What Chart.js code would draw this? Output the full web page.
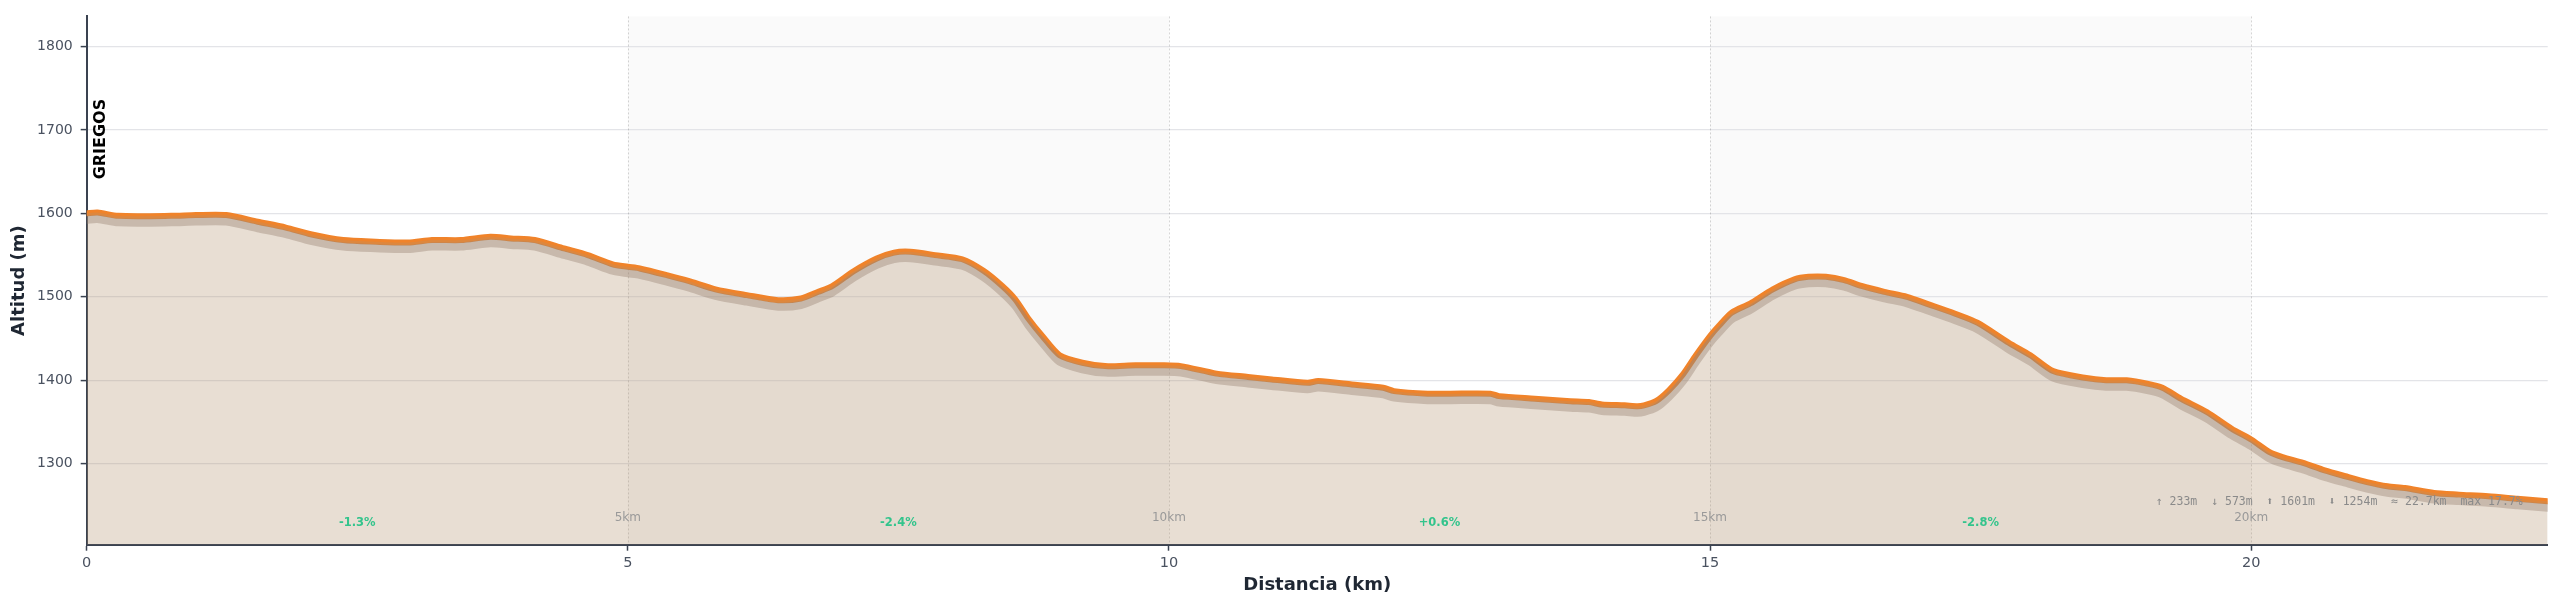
<!DOCTYPE html>
<html>
<head>
<meta charset="utf-8">
<script src="https://cdn.jsdelivr.net/npm/chart.js@4.4.1/dist/chart.umd.min.js"></script>
<style>
  html, body { margin: 0; padding: 0; background: #ffffff; }
  #wrap { width: 2560px; height: 608px; }
</style>
</head>
<body>
<div id="wrap"><canvas id="c" width="2560" height="608"></canvas></div>
<script>
// ---- data ----
const distanceKm = [
  0, 0.1, 0.29, 0.78, 1.01, 1.29, 1.58, 1.84, 2.07, 2.37,
  2.67, 2.97, 3.19, 3.46, 3.73, 3.92, 4.14, 4.41, 4.63, 4.86,
  5.0, 5.11, 5.36, 5.56, 5.81, 6.10, 6.39, 6.60, 6.76, 6.89,
  7.09, 7.30, 7.46, 7.61, 7.84, 8.09, 8.29, 8.46, 8.58, 8.70,
  8.83, 8.99, 9.20, 9.41, 9.69, 9.94, 10.11, 10.44, 10.73, 10.95,
  11.28, 11.38, 11.69, 11.98, 12.08, 12.39, 12.60, 12.97, 13.05, 13.38,
  13.71, 13.88, 14.00, 14.21, 14.33, 14.39, 14.50, 14.62, 14.75, 14.87,
  15.0, 15.08, 15.20, 15.37, 15.58, 15.78, 15.91, 16.07, 16.24, 16.40,
  16.61, 16.82, 17.02, 17.26, 17.47, 17.76, 17.96, 18.17, 18.46, 18.66,
  18.85, 19.04, 19.18, 19.35, 19.59, 19.82, 20.0, 20.17, 20.29, 20.48,
  20.68, 20.87, 21.07, 21.26, 21.42, 21.69, 21.92, 22.19, 22.46, 22.74
];
const elevationM = [
  1600, 1601, 1597, 1597, 1598, 1598, 1590, 1583, 1575, 1568,
  1566, 1565, 1568, 1568, 1572, 1570, 1568, 1558, 1550, 1539,
  1536, 1534, 1526, 1519, 1509, 1502, 1496, 1498, 1506, 1513,
  1531, 1546, 1553, 1554, 1550, 1545, 1531, 1513, 1497, 1474,
  1453, 1430, 1421, 1417, 1418, 1418, 1417, 1408, 1404, 1401,
  1397, 1399, 1395, 1391, 1387, 1384, 1384, 1384, 1381, 1378,
  1375, 1374, 1371, 1370, 1369, 1370, 1375, 1388, 1407, 1430,
  1453, 1465, 1481, 1492, 1509, 1521, 1524, 1524, 1520, 1513,
  1506, 1500, 1491, 1480, 1469, 1445, 1430, 1411, 1403, 1400,
  1400, 1396, 1391, 1378, 1362, 1342, 1329, 1314, 1308, 1301,
  1292, 1285, 1278, 1273, 1271, 1265, 1263, 1261, 1258, 1255
];
const xTickValues = [0, 5, 10, 15, 20];
const yTickValues = [1300, 1400, 1500, 1600, 1700, 1800];
const xRange = [0, 22.74];
const yRange = [1203, 1836];
const shadedBands = [[5, 10], [15, 20]];
const kmMarkers = [5, 10, 15, 20];
const kmMarkerLabels = ['5km', '10km', '15km', '20km'];
const segmentMidKm = [2.5, 7.5, 12.5, 17.5];
const segmentGrades = ['-1.3%', '-2.4%', '+0.6%', '-2.8%'];
const startLabel = 'GRIEGOS';
const statsText = '\u2191 233m  \u2193 573m  \u2B06 1601m  \u2B07 1254m  \u2248 22.7km  max 17.7%';
const xTitle = 'Distancia (km)';
const yTitle = 'Altitud (m)';

// ---- chart ----
const points = distanceKm.map((d, i) => ({ x: d, y: elevationM[i] }));
const FONT = "'DejaVu Sans', 'Noto Sans', sans-serif";

const decor = {
  id: 'decor',
  beforeDraw(chart) {
    const { ctx, chartArea: a, scales: { x } } = chart;
    ctx.save();
    ctx.fillStyle = '#ffffff';
    ctx.fillRect(0, 0, chart.width, chart.height);
    ctx.fillStyle = '#fafafa';
    shadedBands.forEach(([s, e]) => {
      const x0 = x.getPixelForValue(s), x1 = x.getPixelForValue(e);
      ctx.fillRect(x0, a.top, x1 - x0, a.bottom - a.top);
    });
    ctx.restore();
  },
  beforeDatasetsDraw(chart) {
    const { ctx, chartArea: a, scales: { x } } = chart;
    ctx.save();
    ctx.strokeStyle = 'rgba(0,0,0,0.16)';
    ctx.lineWidth = 1;
    ctx.setLineDash([2, 2]);
    kmMarkers.forEach(k => {
      const px = Math.round(x.getPixelForValue(k)) + 0.5;
      ctx.beginPath();
      ctx.moveTo(px, a.top);
      ctx.lineTo(px, a.bottom);
      ctx.stroke();
    });
    ctx.restore();
  },
  beforeDatasetDraw(chart, args) {
    if (args.index === 1) {
      chart.ctx.save();
      chart.ctx.translate(0, 6.5);
    }
  },
  afterDatasetDraw(chart, args) {
    if (args.index === 1) chart.ctx.restore();
  },
  afterDatasetsDraw(chart) {
    const { ctx, chartArea: a, scales: { x, y } } = chart;
    ctx.save();
    // km marker labels
    ctx.font = `12px ${FONT}`;
    ctx.fillStyle = '#999999';
    ctx.textAlign = 'center';
    ctx.textBaseline = 'middle';
    kmMarkers.forEach((k, i) => {
      ctx.fillText(kmMarkerLabels[i], x.getPixelForValue(k), a.bottom - 27);
    });
    // segment grades
    ctx.font = `bold 11.5px ${FONT}`;
    ctx.fillStyle = '#33c48c';
    segmentMidKm.forEach((k, i) => {
      ctx.fillText(segmentGrades[i], x.getPixelForValue(k), a.bottom - 22);
    });
    // stats
    ctx.font = `11.5px 'DejaVu Sans Mono', monospace`;
    ctx.fillStyle = '#8a8a8a';
    ctx.textAlign = 'right';
    ctx.fillText(statsText, a.right - 25, a.bottom - 42.5);
    // start label
    ctx.translate(x.getPixelForValue(distanceKm[0]) + 14, y.getPixelForValue(elevationM[0]) - 34);
    ctx.rotate(-Math.PI / 2);
    ctx.font = `bold 16px ${FONT}`;
    ctx.fillStyle = '#000000';
    ctx.textAlign = 'left';
    ctx.textBaseline = 'middle';
    ctx.fillText(startLabel, 0, 0);
    ctx.restore();
  }
};

Chart.defaults.font.family = FONT;

new Chart(document.getElementById('c'), {
  type: 'line',
  data: {
    datasets: [
      {
        label: 'area',
        data: points,
        fill: 'start',
        backgroundColor: 'rgba(180,145,108,0.30)',
        borderWidth: 0,
        borderColor: 'rgba(0,0,0,0)',
        pointRadius: 0,
        tension: 0.25
      },
      {
        label: 'shadow',
        data: points,
        fill: false,
        borderColor: 'rgba(140,122,116,0.40)',
        borderWidth: 8,
        pointRadius: 0,
        tension: 0.25,
        borderJoinStyle: 'round',
        borderCapStyle: 'round'
      },
      {
        label: 'line',
        data: points,
        fill: false,
        borderColor: '#f0832a',
        borderWidth: 6,
        pointRadius: 0,
        tension: 0.25,
        borderJoinStyle: 'round',
        borderCapStyle: 'round'
      }
    ]
  },
  options: {
    responsive: false,
    animation: false,
    devicePixelRatio: 1,
    layout: { padding: { top: 11.7, right: 12.3, left: 0, bottom: 0 } },
    plugins: { legend: { display: false }, tooltip: { enabled: false } },
    scales: {
      x: {
        type: 'linear',
        min: xRange[0],
        max: xRange[1],
        afterFit: s => { s.height = 63.3; },
        afterBuildTicks: s => { s.ticks = xTickValues.map(v => ({ value: v })); },
        grid: { display: true, drawOnChartArea: false, drawTicks: true, tickLength: 6, tickColor: '#3a4250', tickWidth: 1.5 },
        border: { display: true, color: '#3a4250', width: 2 },
        ticks: { color: '#4a5260', font: { size: 14.5 }, padding: 4, maxRotation: 0, autoSkip: false, callback: v => String(v) },
        title: { display: true, text: xTitle, color: '#1f2733', font: { size: 18, weight: 'bold' }, padding: { top: 0, bottom: 11.5 } }
      },
      y: {
        type: 'linear',
        min: yRange[0],
        max: yRange[1],
        afterFit: s => { s.width = 86.7; },
        afterBuildTicks: s => { s.ticks = yTickValues.map(v => ({ value: v })); },
        grid: { display: true, color: '#e3e4e8', lineWidth: 1.2, drawTicks: true, tickLength: 6, tickColor: '#3a4250', tickWidth: 1.5 },
        border: { display: true, color: '#3a4250', width: 2 },
        ticks: { color: '#4a5260', font: { size: 14 }, padding: 8, callback: v => String(v) },
        title: { display: true, text: yTitle, color: '#1f2733', font: { size: 18, weight: 'bold' }, padding: { top: 8.7, bottom: 0 } }
      }
    }
  },
  plugins: [decor]
});
</script>
</body>
</html>
